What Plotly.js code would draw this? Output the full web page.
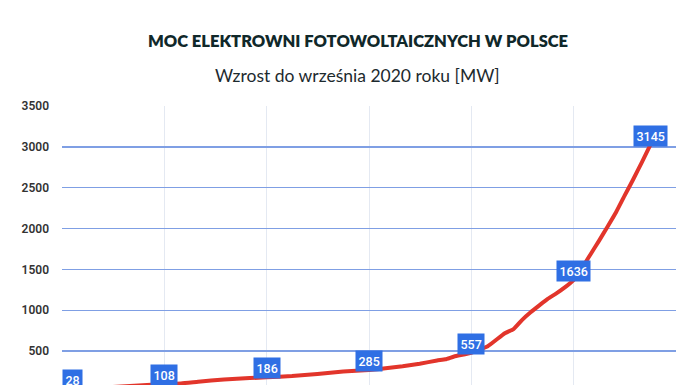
<!DOCTYPE html>
<html>
<head>
<meta charset="utf-8">
<script src="https://cdn.plot.ly/plotly-3.0.1.min.js"></script>
<style>
  html, body { margin: 0; padding: 0; overflow: hidden; background: #ffffff; }
  #chart { width: 696px; height: 432px; }
</style>
</head>
<body>
<div id="chart"></div>
<script>
// Monthly installed PV capacity in Poland [MW]
const months = [
  '2015-01-01','2015-04-01','2015-07-01','2015-10-01',
  '2016-01-01','2016-03-01','2016-05-01','2016-08-01','2016-11-01',
  '2017-01-01','2017-04-01','2017-07-01','2017-10-01',
  '2018-01-01','2018-03-01','2018-05-01','2018-07-01','2018-09-01','2018-10-01','2018-11-01',
  '2019-01-01','2019-03-01','2019-05-01','2019-06-01','2019-07-01','2019-08-01','2019-09-01','2019-10-01','2019-11-01','2019-12-01',
  '2020-01-01','2020-02-01','2020-03-01','2020-04-01','2020-05-01','2020-06-01','2020-07-01','2020-08-01','2020-09-01','2020-10-01'
];
const capacity = [
  28, 40, 60, 80,
  100, 104, 125, 153, 170,
  180, 195, 220, 251,
  270, 290, 315, 346, 386, 400, 435,
  480, 560, 720, 770, 880, 975, 1060, 1140, 1207, 1280,
  1370, 1520, 1680, 1850, 2020, 2200, 2400, 2600, 2810, 3020
];
// Labelled milestones
const labelDates = ['2015-01-01','2016-01-01','2017-01-01','2018-01-01','2019-01-01','2020-01-01','2020-10-01'];
const labelTexts = ['28','108','186','285','557','1636','3145'];
const yTicks = [500, 1000, 1500, 2000, 2500, 3000, 3500];

const titleText = 'MOC ELEKTROWNI FOTOWOLTAICZNYCH W POLSCE';
const subtitleText = 'Wzrost do września 2020 roku [MW]';

const trace = {
  x: months,
  y: capacity,
  type: 'scatter',
  mode: 'lines',
  line: { color: '#e2352b', width: 4, shape: 'spline', smoothing: 0.4 },
  hoverinfo: 'x+y'
};

const annotations = labelDates.map((d, i) => {
  const idx = months.indexOf(d);
  return {
    x: d, y: capacity[idx], xref: 'x', yref: 'y',
    text: labelTexts[i],
    showarrow: false,
    xanchor: i === 0 ? 'left' : 'center',
    yanchor: 'middle',
    yshift: i === 0 ? 10 : 9,
    bgcolor: '#2f6fe4',
    borderpad: 2.5,
    font: { family: 'Roboto, sans-serif', size: 12.5, color: '#ffffff', weight: 500 }
  };
});

annotations.push({
  text: subtitleText,
  xref: 'paper', yref: 'paper',
  x: 0.482, y: 1.105,
  xanchor: 'center', yanchor: 'middle',
  showarrow: false,
  font: { family: 'Lato, sans-serif', size: 17.5, color: '#1d2a2e' }
});

const layout = {
  width: 696,
  height: 432,
  margin: { l: 62, r: 20, t: 106, b: 40 },
  paper_bgcolor: '#ffffff',
  plot_bgcolor: '#ffffff',
  showlegend: false,
  title: {
    text: titleText,
    x: 358 / 696, xanchor: 'center',
    y: 1 - 41 / 432, yanchor: 'middle',
    font: { family: 'Lato, sans-serif', size: 16.5, color: '#10282a', weight: 800 }
  },
  xaxis: {
    type: 'date',
    range: ['2015-01-01', '2021-01-01'],
    tick0: '2015-01-01',
    dtick: 'M12',
    showgrid: true,
    gridcolor: '#e4e9f2',
    gridwidth: 1,
    zeroline: false,
    showline: false,
    showticklabels: false,
    ticks: ''
  },
  yaxis: {
    range: [0, 3500],
    tickvals: yTicks,
    ticktext: yTicks.map(String),
    showgrid: true,
    gridcolor: '#7f9fe4',
    gridwidth: 1.5,
    zeroline: false,
    showline: false,
    ticks: '',
    ticklabelstandoff: 12,
    tickfont: { family: 'Roboto, sans-serif', size: 12, color: '#333333', weight: 600 }
  },
  annotations: annotations
};

Plotly.newPlot('chart', [trace], layout, { displayModeBar: false, staticPlot: true });
</script>
</body>
</html>
